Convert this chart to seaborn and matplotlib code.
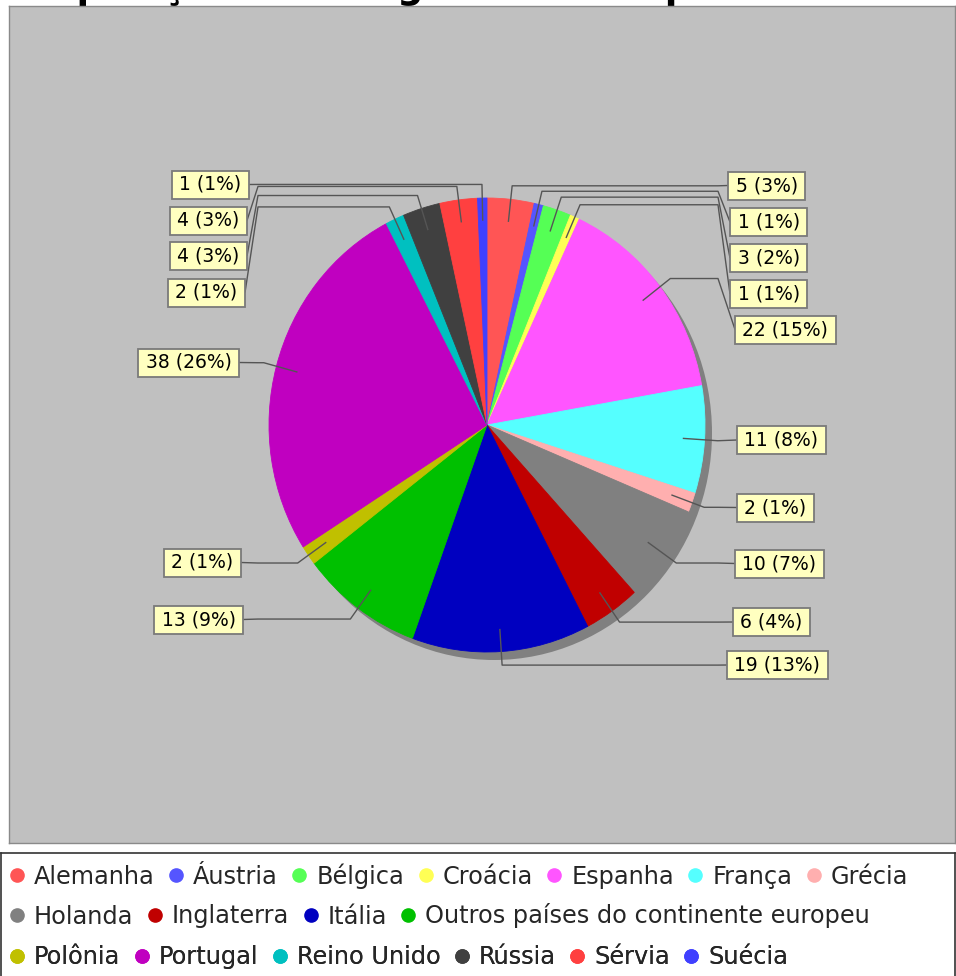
import numpy as np
import matplotlib
matplotlib.use("Agg")
import matplotlib.pyplot as plt
from matplotlib.patches import Ellipse, Rectangle
from matplotlib.lines import Line2D
import seaborn as sns

# ---- data -------------------------------------------------------------
paises = ["Alemanha", "Áustria", "Bélgica", "Croácia", "Espanha", "França",
          "Grécia", "Holanda", "Inglaterra", "Itália",
          "Outros países do continente europeu", "Polônia", "Portugal",
          "Reino Unido", "Rússia", "Sérvia", "Suécia"]
imigrantes = [5, 1, 3, 1, 22, 11, 2, 10, 6, 19, 13, 2, 38, 2, 4, 4, 1]
cores = ["#FF5555", "#5555FF", "#55FF55", "#FFFF55", "#FF55FF", "#55FFFF",
         "#FFAFAF", "#808080", "#C00000", "#0000C0", "#00C000", "#C0C000",
         "#C000C0", "#00C0C0", "#404040", "#FF4040", "#4040FF"]
titulo = "Composição dos imigrantes europeus"
itens_por_linha = [7, 4, 6]

# ---- label layout (pixels from top-left of the image) -------------------
lado_rotulo = ["R"] * 10 + ["L"] * 7
borda_rotulo_px = [728, 730, 730, 730, 735, 737, 737, 735, 733, 727,
                   243, 241, 239, 245, 247, 247, 249]
y_rotulo_px = [185.5, 222, 258, 294, 329.5, 440, 507.5, 563.5, 622, 665,
               619.5, 562.5, 362.5, 292.5, 256, 220.5, 184.5]

W, H = 956, 976
sns.set_style("white")
plt.rcParams["font.family"] = ["DejaVu Sans"]
paleta = sns.color_palette(cores)

fig = plt.figure(figsize=(W / 100, H / 100), dpi=100)
fig.patch.set_facecolor("white")

# title sits above the plot panel, mostly outside the canvas
fig.text(-14 / W, 1 + 2 / H, titulo, fontsize=26.5, fontweight="bold",
         ha="left", va="baseline", color="black", zorder=-1)

# pie geometry in pixels
CX, CY, RX, RY = 487, 425, 218, 227
PL, PR, PT, PB = 9, 955, 6, 843

ax = fig.add_axes([PL / W, 1 - PB / H, (PR - PL) / W, (PB - PT) / H])
ax.set_facecolor("#C0C0C0")

total = sum(imigrantes)
wedges, _ = ax.pie(imigrantes, colors=paleta, startangle=90,
                   counterclock=False, radius=1, center=(0, 0), frame=True,
                   wedgeprops=dict(linewidth=0.6))
for w in wedges:
    w.set_edgecolor(w.get_facecolor())
    w.set_zorder(2)

# drop shadow
ax.add_patch(Ellipse((7 / RX, -8 / RY), 2, 2, facecolor="#808080",
                     edgecolor="none", zorder=1))

ax.set_aspect("auto")
ax.set_xlim((PL - CX) / RX, (PR - CX) / RX)
ax.set_ylim((CY - PB) / RY, (CY - PT) / RY)
ax.set_xticks([])
ax.set_yticks([])
for s in ax.spines.values():
    s.set_color("#8a8a8a")
    s.set_linewidth(1.0)

# leader lines and labels
xlink = {"R": (718 - CX) / RX, "L": (258 - CX) / RX}
cum = np.cumsum(imigrantes)
textos = []
for i, v in enumerate(imigrantes):
    ang = 2 * np.pi * (cum[i] - v / 2) / total
    sx, cy_ = np.sin(ang), np.cos(ang)
    lado = lado_rotulo[i]
    ex = (borda_rotulo_px[i] - CX) / RX
    ly = (CY - y_rotulo_px[i]) / RY
    xs = [0.9 * sx, 1.06 * sx, xlink[lado], ex]
    ys = [0.9 * cy_, 1.06 * cy_, 1.06 * cy_, ly]
    ax.plot(xs, ys, color="#555555", lw=1.0, zorder=3, solid_capstyle="butt")

    pct = round(100 * v / total)
    rotulo = f"{v} ({pct}%)"
    if lado == "R":
        tx, ha = borda_rotulo_px[i] + 7.5, "left"
    else:
        tx, ha = borda_rotulo_px[i] - 7.5, "right"
    t = fig.text(tx / W, 1 - y_rotulo_px[i] / H, rotulo, fontsize=13.5,
                 ha=ha, va="center", color="black", zorder=4)
    textos.append(t)

fig.canvas.draw()
renderer = fig.canvas.get_renderer()
for i, t in enumerate(textos):
    bb = t.get_window_extent(renderer)
    x0 = bb.x0 - 7.5
    w = bb.width + 15
    y0 = H - y_rotulo_px[i] - 14
    fig.add_artist(Rectangle((x0 / W, y0 / H), w / W, 28 / H,
                             transform=fig.transFigure, facecolor="#FFFFC0",
                             edgecolor="#7a7a7a", lw=1.3, zorder=3.5))

# legend box
LT = 853
lax = fig.add_axes([1 / W, -2 / H, (PR - 1) / W, (H - LT + 2) / H])
lax.set_xticks([])
lax.set_yticks([])
lax.set_facecolor("white")
for s in lax.spines.values():
    s.set_color("#333333")
    s.set_linewidth(1.2)

linhas_y = [876, 916, 957]
inicio = 0
for r, n in enumerate(itens_por_linha):
    nomes = paises[inicio:inicio + n]
    hs = [Line2D([], [], marker="o", linestyle="none", markersize=9.5,
                 markerfacecolor=paleta[inicio + k],
                 markeredgecolor=paleta[inicio + k]) for k in range(n)]
    leg = lax.legend(hs, nomes, loc="center left",
                     bbox_to_anchor=(7.5 / W, 1 - linhas_y[r] / H),
                     bbox_transform=fig.transFigure, ncol=n, frameon=False,
                     borderpad=0, borderaxespad=0, handlelength=0.8,
                     handletextpad=0.3, columnspacing=0.5, fontsize=17.3)
    lax.add_artist(leg)
    inicio += n

fig.savefig("out.png", dpi=100, facecolor="white")
